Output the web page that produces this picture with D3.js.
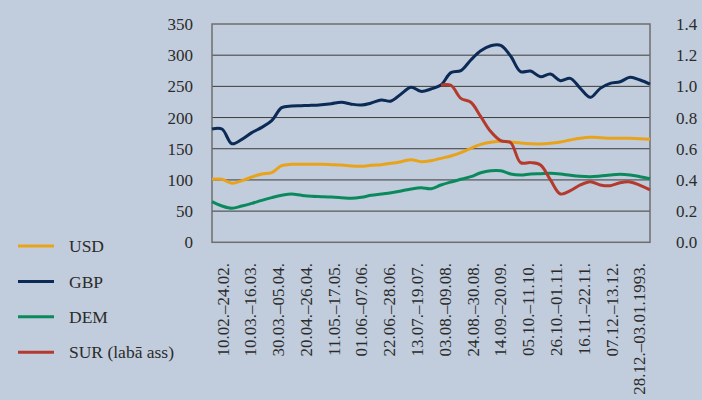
<!DOCTYPE html>
<html>
<head>
<meta charset="utf-8">
<script src="https://cdn.jsdelivr.net/npm/d3@7"></script>
<style>
  body { margin: 0; background: #c1cddc; }
  svg { display: block; }
</style>
</head>
<body>
<svg id="chart" width="702" height="400"></svg>
<script>
// Global settings
let W = 702
let H = 400
let fontFace = "'Liberation Serif', serif"

// Period labels on the x axis (every third week)
let periodLabels = ["10.02.–24.02.", "10.03.–16.03.", "30.03.–05.04.", "20.04.–26.04.",
    "11.05.–17.05.", "01.06.–07.06.", "22.06.–28.06.", "13.07.–19.07.", "03.08.–09.08.",
    "24.08.–30.08.", "14.09.–20.09.", "05.10.–11.10.", "26.10.–01.11.", "16.11.–22.11.",
    "07.12.–13.12.", "28.12.–03.01.1993."]

let leftTicks = [0, 50, 100, 150, 200, 250, 300, 350]
let rightTicks = [0, 0.2, 0.4, 0.6, 0.8, 1.0, 1.2, 1.4]

// Weekly values
let usd = [101, 101, 94.5, 98.8, 104.7, 109.5, 111.6, 122.9, 125, 125, 125,
    125, 124.5, 123.9, 122.3, 121.8, 123.4, 124.5, 126.6, 129.3, 132.5, 129.3,
    130.9, 134.6, 138.4, 143.7, 150.7, 157.1, 160.3, 161.9, 160.8, 159.2, 158.1,
    157.6, 158.7, 160.8, 164, 166.7, 168.3, 167.8, 166.7, 166.7, 166.7, 166.1, 165.1]
let gbp = [181.6, 181.6, 158, 165, 175.8, 184.3, 195, 215.9, 218.5, 219, 219.6,
    220.7, 222.3, 224.4, 221.5, 220.1, 223.3, 228.1, 226.5, 237.8, 248.5, 242,
    245.8, 252.2, 272, 275.2, 292.3, 307.2, 315.2, 315.8, 298.7, 273.6, 274.6,
    265.5, 269.8, 259.1, 262.9, 246.8, 232.4, 246.8, 254.9, 257.5, 264.5, 260.2, 253.8]
let dem = [65.2, 58.2, 54.5, 58.2, 62.5, 67.3, 71.6, 75.3, 77.4, 75.3, 73.7,
    73.2, 72.6, 71.6, 70.5, 72.1, 75.3, 77.4, 79.6, 82.2, 85.5, 87.6,
    86, 91.9, 96.7, 101, 105.2, 111.6, 114.8, 114.8, 109.5, 107.9, 109.5,
    110, 110.6, 109.5, 107.4, 105.8, 105.2, 106.3, 107.9, 109, 107.9, 105.2, 102]
// SUR on the right axis, starts in August
let sur = [null, null, null, null, null, null, null, null, null, null, null,
    null, null, null, null, null, null, null, null, null, null, null,
    null, 1.009, 1.007, 0.923, 0.898, 0.806, 0.71, 0.652, 0.639, 0.511, 0.511,
    0.496, 0.40, 0.31, 0.331, 0.368, 0.389, 0.368, 0.363, 0.382, 0.387, 0.365, 0.336]

let seriesNames = ["USD", "GBP", "DEM", "SUR (labā ass)"]
let seriesColors = ["#e9a31a", "#0b2a55", "#0a8a5c", "#b33a2c"]

function drawChart(svg) {
    let plot = {left: 212, right: 650, top: 24, bottom: 242.3}

    let x = d3.scaleLinear().domain([0, usd.length - 1]).range([plot.left, plot.right])
    let xLab = d3.scalePoint().domain(periodLabels).range([plot.left, plot.right]).padding(0.38)
    let yL = d3.scaleLinear().domain([0, 350]).range([plot.bottom, plot.top])
    let yR = d3.scaleLinear().domain([0, 1.4]).range([plot.bottom, plot.top])

    // gridlines
    svg.append("g")
        .selectAll("line")
        .data(leftTicks.slice(1, -1))
        .enter()
        .append("line")
        .attr("x1", plot.left).attr("x2", plot.right)
        .attr("y1", d => yL(d)).attr("y2", d => yL(d))
        .attr("stroke", "#3c3c3c")
        .attr("stroke-width", 1)

    // plot frame
    svg.append("rect")
        .attr("x", plot.left).attr("y", plot.top)
        .attr("width", plot.right - plot.left).attr("height", plot.bottom - plot.top)
        .attr("fill", "none")
        .attr("stroke", "#6e6e6e")
        .attr("stroke-width", 1.5)

    // every text gets the serif face directly
    function label(sel, size) {
        return sel.append("text")
            .style("font-family", fontFace)
            .style("font-size", size + "px")
            .attr("fill", "#2b2b2b")
    }

    // left axis labels
    leftTicks.forEach(d => {
        label(svg, 17).attr("x", 193).attr("y", yL(d)).attr("dy", "0.35em")
            .attr("text-anchor", "end").text(d)
    })

    // right axis labels
    rightTicks.forEach(d => {
        label(svg, 17).attr("x", 676).attr("y", yR(d)).attr("dy", "0.35em")
            .text(d.toFixed(1))
    })

    // x labels, rotated
    periodLabels.forEach(d => {
        label(svg, 17).attr("transform", "translate(" + xLab(d) + ",263) rotate(-90)")
            .attr("dy", "0.35em")
            .attr("text-anchor", "end")
            .text(d)
    })

    // lines
    let leftLine = d3.line()
        .defined(d => d != null)
        .x((d, i) => x(i))
        .y(d => yL(d))
        .curve(d3.curveCatmullRom)
    let rightLine = d3.line()
        .defined(d => d != null)
        .x((d, i) => x(i))
        .y(d => yR(d))
        .curve(d3.curveCatmullRom)

    let allSeries = [usd, gbp, dem]
    allSeries.forEach((s, k) => {
        svg.append("path")
            .attr("d", leftLine(s))
            .attr("fill", "none")
            .attr("stroke", seriesColors[k])
            .attr("stroke-width", 3)
    })
    svg.append("path")
        .attr("d", rightLine(sur))
        .attr("fill", "none")
        .attr("stroke", seriesColors[3])
        .attr("stroke-width", 3)

    // legend
    seriesNames.forEach((d, i) => {
        let ly = 246 + i * 35.4
        svg.append("line")
            .attr("x1", 18).attr("x2", 54)
            .attr("y1", ly).attr("y2", ly)
            .attr("stroke", seriesColors[i])
            .attr("stroke-width", 3)
        label(svg, 17.5).attr("x", 69).attr("y", ly).attr("dy", "0.35em").text(d)
    })
}

drawChart(d3.select("#chart"))
</script>
</body>
</html>
